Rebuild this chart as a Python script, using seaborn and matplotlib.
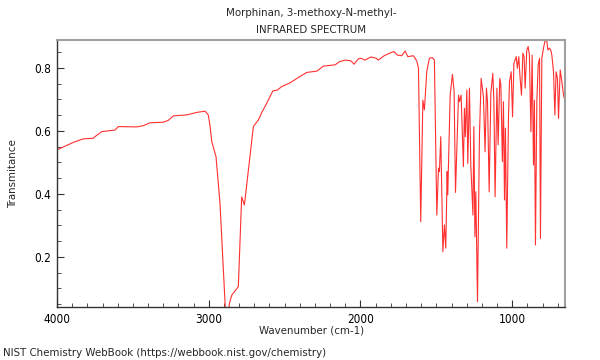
import numpy as np
import pandas as pd

import matplotlib
matplotlib.use("Agg")
import matplotlib.pyplot as plt
import seaborn as sns
from matplotlib.ticker import MultipleLocator

# =====================
# DATA
# =====================

wavenumber = [
    4000, 3892, 3827, 3761, 3750, 3705, 3618, 3596, 3475, 3431, 3387, 3299,
    3266, 3233, 3145, 3079, 3024, 3003, 2991, 2980, 2952, 2926, 2890, 2872,
    2860, 2848, 2805, 2783, 2765, 2739, 2706, 2673, 2651, 2618, 2578, 2548,
    2519, 2464, 2409, 2354, 2288, 2244, 2167, 2139, 2101, 2064, 2042, 2014,
    1998, 1970, 1932, 1897, 1882, 1844, 1794, 1779, 1757, 1728, 1706, 1688,
    1651, 1629, 1618, 1603, 1589, 1579, 1563, 1546, 1526, 1513, 1497, 1486,
    1480, 1471, 1457, 1447, 1438, 1429, 1425, 1409, 1394, 1383, 1374, 1354,
    1348, 1337, 1322, 1315, 1309, 1299, 1293, 1282, 1273, 1266, 1259, 1253,
    1246, 1240, 1229, 1216, 1205, 1190, 1179, 1170, 1163, 1152, 1141, 1128,
    1121, 1113, 1101, 1093, 1082, 1075, 1065, 1058, 1051, 1045, 1036, 1025,
    1018, 1007, 998, 989, 981, 974, 966, 957, 948, 939, 930, 922,
    915, 904, 895, 887, 877, 869, 860, 854, 847, 838, 829, 820,
    814, 805, 794, 783, 772, 765, 755, 746, 739, 728, 719, 711,
    702, 695, 684, 673, 662, 651,
]

transmittance = [
    0.540, 0.564, 0.575, 0.577, 0.582, 0.598, 0.603, 0.614, 0.613, 0.617, 0.626, 0.628,
    0.634, 0.648, 0.651, 0.659, 0.663, 0.651, 0.614, 0.566, 0.518, 0.371, 0.030, 0.030,
    0.060, 0.079, 0.106, 0.391, 0.365, 0.476, 0.614, 0.635, 0.658, 0.688, 0.727, 0.730,
    0.741, 0.753, 0.770, 0.786, 0.790, 0.806, 0.810, 0.820, 0.825, 0.823, 0.812, 0.829,
    0.831, 0.825, 0.835, 0.831, 0.825, 0.839, 0.850, 0.852, 0.841, 0.839, 0.854, 0.836,
    0.839, 0.822, 0.800, 0.312, 0.698, 0.667, 0.790, 0.831, 0.833, 0.825, 0.333, 0.482,
    0.471, 0.582, 0.217, 0.302, 0.228, 0.471, 0.397, 0.714, 0.780, 0.725, 0.405, 0.714,
    0.693, 0.714, 0.487, 0.672, 0.582, 0.730, 0.497, 0.736, 0.492, 0.413, 0.333, 0.614,
    0.264, 0.407, 0.058, 0.587, 0.767, 0.709, 0.534, 0.736, 0.693, 0.407, 0.720, 0.783,
    0.693, 0.391, 0.736, 0.556, 0.767, 0.746, 0.503, 0.693, 0.381, 0.609, 0.228, 0.640,
    0.757, 0.788, 0.645, 0.815, 0.825, 0.836, 0.799, 0.836, 0.767, 0.714, 0.847, 0.836,
    0.736, 0.857, 0.868, 0.841, 0.598, 0.841, 0.492, 0.698, 0.238, 0.693, 0.810, 0.831,
    0.259, 0.831, 0.863, 0.889, 0.884, 0.857, 0.863, 0.857, 0.841, 0.788, 0.651, 0.788,
    0.767, 0.640, 0.794, 0.757, 0.714, 0.693,
]

df = pd.DataFrame({"Wavenumber": wavenumber, "Transmitance": transmittance})

# =====================
# STYLE
# =====================

sns.set_style("white")
plt.rcParams["font.family"] = ["DejaVu Sans"]
plt.rcParams["font.stretch"] = "condensed"
plt.rcParams["font.size"] = 8

fig = plt.figure(figsize=(6, 3.6), dpi=100)
ax = fig.add_axes([0.095, 0.147, 0.847, 0.742])

# =====================
# PLOT
# =====================

sns.lineplot(
    data=df,
    x="Wavenumber",
    y="Transmitance",
    sort=False,
    estimator=None,
    color="#ff3030",
    linewidth=0.8,
    ax=ax
)

ax.set_xlim(4000, 651)
ax.set_ylim(0.041, 0.889)

ax.xaxis.set_major_locator(MultipleLocator(1000))
ax.xaxis.set_minor_locator(MultipleLocator(100))
ax.yaxis.set_major_locator(MultipleLocator(0.2))
ax.yaxis.set_minor_locator(MultipleLocator(0.05))

ax.tick_params(which="both", direction="in", top=False, right=False,
               bottom=True, left=True, labelsize=8.5, colors="#333333",
               labelcolor="black")
ax.tick_params(which="major", length=5, width=0.8, pad=4)
ax.tick_params(which="minor", length=3, width=0.6)

for side in ["left", "bottom"]:
    ax.spines[side].set_color("#333333")
    ax.spines[side].set_linewidth(1.0)
for side in ["top", "right"]:
    ax.spines[side].set_color("#a0a0a0")
    ax.spines[side].set_linewidth(1.5)

ax.set_xlabel("Wavenumber (cm-1)", fontsize=8.2, labelpad=0)
ax.set_ylabel("Transmitance", fontsize=8.2, labelpad=12)

fig.text(0.518, 0.963, "Morphinan, 3-methoxy-N-methyl-", ha="center",
         va="center", fontsize=8.2)
fig.text(0.518, 0.916, "INFRARED SPECTRUM", ha="center", va="center",
         fontsize=8.2)
fig.text(0.005, 0.02, "NIST Chemistry WebBook (https://webbook.nist.gov/chemistry)",
         ha="left", va="center", fontsize=8.2)

plt.savefig("out.png", dpi=100)
